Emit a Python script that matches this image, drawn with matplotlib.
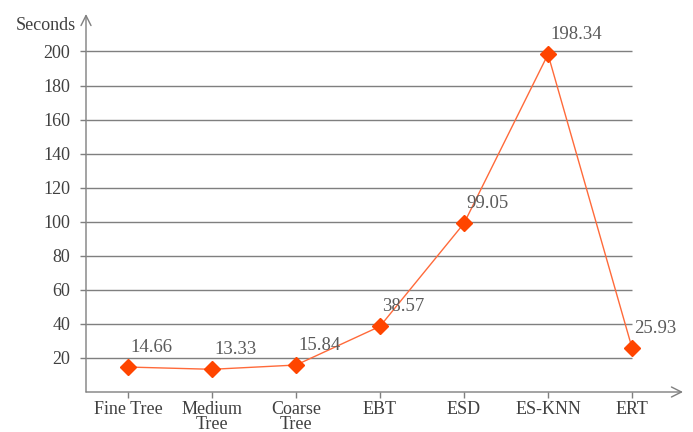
import matplotlib
matplotlib.use("Agg")
import matplotlib.pyplot as plt

# Training time per classifier
categories = ["Fine Tree", "Medium\nTree", "Coarse\nTree", "EBT", "ESD", "ES-KNN", "ERT"]
seconds = [14.66, 13.33, 15.84, 38.57, 99.05, 198.34, 25.93]
y_ticks = [20, 40, 60, 80, 100, 120, 140, 160, 180, 200]

plt.rcParams["font.family"] = ["Liberation Serif", "DejaVu Serif"]

fig = plt.figure(figsize=(6.93, 4.32), dpi=100)
ax = fig.add_axes([86 / 693, 1 - 392 / 432, (683 - 86) / 693, (392 - 14) / 432])

x = list(range(len(categories)))
ax.set_xlim(-0.5, 6.607)
ax.set_ylim(0, 222)

axis_col = "#7f7f7f"
text_col = "#404040"
line_col = "#FF6A3A"
marker_col = "#FF4500"

# horizontal grid lines, ending at the last category
ax.hlines(y_ticks, -0.5, x[-1], colors=axis_col, linewidth=1.0, zorder=1)

ax.plot(x, seconds, color=line_col, linewidth=1.0, marker="D", markersize=8,
        markerfacecolor=marker_col, markeredgecolor=marker_col, zorder=3)

for xi, v in zip(x, seconds):
    ax.annotate(f"{v:.2f}", (xi, v), xytext=(1.5, 14), textcoords="offset points",
                ha="left", va="center", fontsize=13.5, color="#5a5a5a", zorder=4)

for s in ax.spines.values():
    s.set_visible(False)

# axes drawn as open arrows
ax.annotate("", xy=(6.607, 0), xytext=(-0.5, 0),
            arrowprops=dict(arrowstyle="->", color=axis_col, lw=1.0,
                            shrinkA=0, shrinkB=0, mutation_scale=18),
            annotation_clip=False)
ax.annotate("", xy=(-0.5, 222), xytext=(-0.5, 0),
            arrowprops=dict(arrowstyle="->", color=axis_col, lw=1.0,
                            shrinkA=0, shrinkB=0, mutation_scale=18),
            annotation_clip=False)

ax.set_xticks(x)
ax.set_xticklabels(categories, fontsize=13, color=text_col, linespacing=0.85)
ax.set_yticks(y_ticks)
ax.set_yticklabels([str(t) for t in y_ticks], fontsize=13, color=text_col)
ax.tick_params(axis="both", direction="out", length=4.5, width=1.0, color=axis_col)
ax.tick_params(axis="y", pad=7)
ax.tick_params(axis="x", pad=2)

fig.text(76 / 693, 1 - 25 / 432, "Seconds", ha="right", va="center",
         fontsize=13, color=text_col)

fig.savefig("out.png", dpi=100)
